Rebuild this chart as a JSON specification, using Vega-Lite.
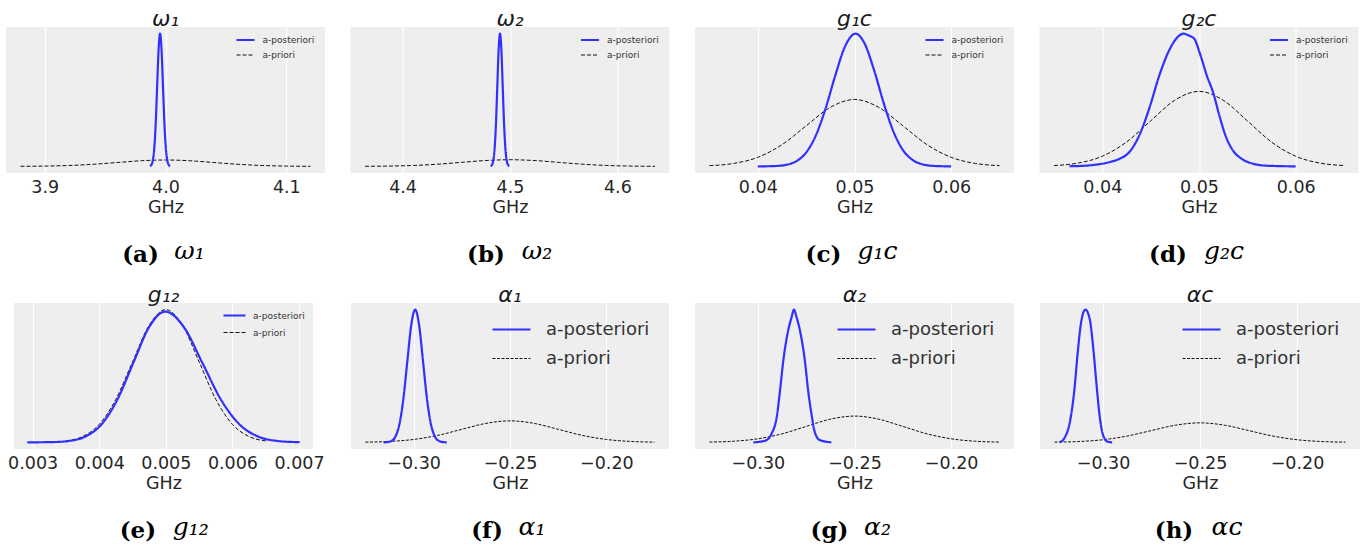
{
"$schema": "https://vega.github.io/schema/vega-lite/v6.json",
"padding": {"left": 6, "top": 8, "right": 0, "bottom": 0},
"config": {
 "font": "DejaVu Sans",
 "view": {"fill": "#eeeeee", "stroke": null},
 "axisX": {"grid": true, "gridColor": "#ffffff", "gridWidth": 1.2, "domain": false, "ticks": false, "labelFont": "DejaVu Sans", "labelFontSize": 17.5, "labelColor": "#262626", "labelPadding": 5, "labelFlush": false, "labelOverlap": false, "titleFont": "DejaVu Sans", "titleFontSize": 17.5, "titleFontWeight": "normal", "titleColor": "#262626", "titlePadding": 3},
 "title": {"font": "DejaVu Sans", "fontStyle": "italic", "fontSize": 22, "fontWeight": "normal", "color": "#1a1a1a", "offset": -4, "anchor": "middle"},
 "legend": {"orient": "none", "padding": 0, "labelFont": "DejaVu Sans", "labelColor": "#333333", "symbolType": "stroke", "labelLimit": 300}
},
"datasets": {
 "a": [
  {"s":"a-priori","x":3.88,"y":0.0005},{"s":"a-priori","x":3.90,"y":0.0021},{"s":"a-priori","x":3.92,"y":0.0065},{"s":"a-priori","x":3.94,"y":0.0156},{"s":"a-priori","x":3.96,"y":0.0291},{"s":"a-priori","x":3.98,"y":0.0424},{"s":"a-priori","x":4.00,"y":0.048},{"s":"a-priori","x":4.02,"y":0.0424},{"s":"a-priori","x":4.04,"y":0.0291},{"s":"a-priori","x":4.06,"y":0.0156},{"s":"a-priori","x":4.08,"y":0.0065},{"s":"a-priori","x":4.10,"y":0.0021},{"s":"a-priori","x":4.12,"y":0.0005},
  {"s":"a-posteriori","x":3.9871,"y":0.0022},{"s":"a-posteriori","x":3.9883,"y":0.0111},{"s":"a-posteriori","x":3.9895,"y":0.0439},{"s":"a-posteriori","x":3.9907,"y":0.1353},{"s":"a-posteriori","x":3.9919,"y":0.3247},{"s":"a-posteriori","x":3.9931,"y":0.6065},{"s":"a-posteriori","x":3.9943,"y":0.8825},{"s":"a-posteriori","x":3.9955,"y":1},{"s":"a-posteriori","x":3.9967,"y":0.8825},{"s":"a-posteriori","x":3.9979,"y":0.6065},{"s":"a-posteriori","x":3.9991,"y":0.3247},{"s":"a-posteriori","x":4.0003,"y":0.1353},{"s":"a-posteriori","x":4.0015,"y":0.0439},{"s":"a-posteriori","x":4.0027,"y":0.0111},{"s":"a-posteriori","x":4.0039,"y":0.0022}
 ],
 "b": [
  {"s":"a-priori","x":4.365,"y":0.0006},{"s":"a-priori","x":4.3875,"y":0.0022},{"s":"a-priori","x":4.41,"y":0.0068},{"s":"a-priori","x":4.4325,"y":0.0162},{"s":"a-priori","x":4.455,"y":0.0303},{"s":"a-priori","x":4.4775,"y":0.0441},{"s":"a-priori","x":4.5,"y":0.05},{"s":"a-priori","x":4.5225,"y":0.0441},{"s":"a-priori","x":4.545,"y":0.0303},{"s":"a-priori","x":4.5675,"y":0.0162},{"s":"a-priori","x":4.59,"y":0.0068},{"s":"a-priori","x":4.6125,"y":0.0022},{"s":"a-priori","x":4.635,"y":0.0006},
  {"s":"a-posteriori","x":4.48195,"y":0.0022},{"s":"a-posteriori","x":4.4832,"y":0.0111},{"s":"a-posteriori","x":4.48445,"y":0.0439},{"s":"a-posteriori","x":4.4857,"y":0.1353},{"s":"a-posteriori","x":4.48695,"y":0.3247},{"s":"a-posteriori","x":4.4882,"y":0.6065},{"s":"a-posteriori","x":4.48945,"y":0.8825},{"s":"a-posteriori","x":4.4907,"y":1},{"s":"a-posteriori","x":4.49195,"y":0.8825},{"s":"a-posteriori","x":4.4932,"y":0.6065},{"s":"a-posteriori","x":4.49445,"y":0.3247},{"s":"a-posteriori","x":4.4957,"y":0.1353},{"s":"a-posteriori","x":4.49695,"y":0.0439},{"s":"a-posteriori","x":4.4982,"y":0.0111},{"s":"a-posteriori","x":4.49945,"y":0.0022}
 ],
 "c": [
  {"s":"a-priori","x":0.035,"y":0.0056},{"s":"a-priori","x":0.0375,"y":0.0221},{"s":"a-priori","x":0.04,"y":0.0682},{"s":"a-priori","x":0.0425,"y":0.1636},{"s":"a-priori","x":0.045,"y":0.3057},{"s":"a-priori","x":0.0475,"y":0.4448},{"s":"a-priori","x":0.05,"y":0.504},{"s":"a-priori","x":0.0525,"y":0.4448},{"s":"a-priori","x":0.055,"y":0.3057},{"s":"a-priori","x":0.0575,"y":0.1636},{"s":"a-priori","x":0.06,"y":0.0682},{"s":"a-priori","x":0.0625,"y":0.0221},{"s":"a-priori","x":0.065,"y":0.0056},
  {"s":"a-posteriori","x":0.040,"y":0.0001},{"s":"a-posteriori","x":0.041,"y":0.0008},{"s":"a-posteriori","x":0.042,"y":0.0034},{"s":"a-posteriori","x":0.043,"y":0.0126},{"s":"a-posteriori","x":0.044,"y":0.0395},{"s":"a-posteriori","x":0.045,"y":0.1046},{"s":"a-posteriori","x":0.046,"y":0.2325},{"s":"a-posteriori","x":0.047,"y":0.434},{"s":"a-posteriori","x":0.048,"y":0.682},{"s":"a-posteriori","x":0.049,"y":0.9},{"s":"a-posteriori","x":0.0501,"y":1.0},{"s":"a-posteriori","x":0.051,"y":0.932},{"s":"a-posteriori","x":0.052,"y":0.731},{"s":"a-posteriori","x":0.053,"y":0.482},{"s":"a-posteriori","x":0.054,"y":0.267},{"s":"a-posteriori","x":0.055,"y":0.124},{"s":"a-posteriori","x":0.056,"y":0.0488},{"s":"a-posteriori","x":0.057,"y":0.016},{"s":"a-posteriori","x":0.058,"y":0.0044},{"s":"a-posteriori","x":0.059,"y":0.001},{"s":"a-posteriori","x":0.060,"y":0.0002}
 ],
 "d": [
  {"s":"a-priori","x":0.035,"y":0.0063},{"s":"a-priori","x":0.0375,"y":0.0248},{"s":"a-priori","x":0.04,"y":0.0764},{"s":"a-priori","x":0.0425,"y":0.1835},{"s":"a-priori","x":0.045,"y":0.3427},{"s":"a-priori","x":0.0475,"y":0.4986},{"s":"a-priori","x":0.05,"y":0.565},{"s":"a-priori","x":0.0525,"y":0.4986},{"s":"a-priori","x":0.055,"y":0.3427},{"s":"a-priori","x":0.0575,"y":0.1835},{"s":"a-priori","x":0.06,"y":0.0764},{"s":"a-priori","x":0.0625,"y":0.0248},{"s":"a-priori","x":0.065,"y":0.0063},
  {"s":"a-posteriori","x":0.0366,"y":0.001},{"s":"a-posteriori","x":0.038,"y":0.004},{"s":"a-posteriori","x":0.039,"y":0.01},{"s":"a-posteriori","x":0.0408,"y":0.033},{"s":"a-posteriori","x":0.0418,"y":0.058},{"s":"a-posteriori","x":0.0428,"y":0.108},{"s":"a-posteriori","x":0.0439,"y":0.246},{"s":"a-posteriori","x":0.0449,"y":0.447},{"s":"a-posteriori","x":0.0459,"y":0.686},{"s":"a-posteriori","x":0.047,"y":0.887},{"s":"a-posteriori","x":0.0478,"y":0.975},{"s":"a-posteriori","x":0.0484,"y":1.0},{"s":"a-posteriori","x":0.0489,"y":0.987},{"s":"a-posteriori","x":0.0495,"y":0.962},{"s":"a-posteriori","x":0.0501,"y":0.849},{"s":"a-posteriori","x":0.0508,"y":0.686},{"s":"a-posteriori","x":0.0515,"y":0.548},{"s":"a-posteriori","x":0.0521,"y":0.384},{"s":"a-posteriori","x":0.0528,"y":0.221},{"s":"a-posteriori","x":0.0535,"y":0.121},{"s":"a-posteriori","x":0.0544,"y":0.058},{"s":"a-posteriori","x":0.0556,"y":0.02},{"s":"a-posteriori","x":0.057,"y":0.005},{"s":"a-posteriori","x":0.06,"y":0.0}
 ],
 "e": [
  {"s":"a-priori","x":0.0035,"y":0.0111},{"s":"a-priori","x":0.00375,"y":0.0439},{"s":"a-priori","x":0.004,"y":0.1353},{"s":"a-priori","x":0.00425,"y":0.3247},{"s":"a-priori","x":0.0045,"y":0.6065},{"s":"a-priori","x":0.00475,"y":0.8825},{"s":"a-priori","x":0.005,"y":1},{"s":"a-priori","x":0.00525,"y":0.8825},{"s":"a-priori","x":0.0055,"y":0.6065},{"s":"a-priori","x":0.00575,"y":0.3247},{"s":"a-priori","x":0.006,"y":0.1353},{"s":"a-priori","x":0.00625,"y":0.0439},{"s":"a-priori","x":0.0065,"y":0.0111},
  {"s":"a-posteriori","x":0.00292,"y":0.0001},{"s":"a-posteriori","x":0.00331,"y":0.0022},{"s":"a-posteriori","x":0.00355,"y":0.0109},{"s":"a-posteriori","x":0.00379,"y":0.0432},{"s":"a-posteriori","x":0.00403,"y":0.1333},{"s":"a-posteriori","x":0.00427,"y":0.3198},{"s":"a-posteriori","x":0.00451,"y":0.5974},{"s":"a-posteriori","x":0.00475,"y":0.8693},{"s":"a-posteriori","x":0.00499,"y":0.985},{"s":"a-posteriori","x":0.00527,"y":0.8693},{"s":"a-posteriori","x":0.00555,"y":0.5974},{"s":"a-posteriori","x":0.00583,"y":0.3198},{"s":"a-posteriori","x":0.00611,"y":0.1333},{"s":"a-posteriori","x":0.00639,"y":0.0432},{"s":"a-posteriori","x":0.00667,"y":0.0109},{"s":"a-posteriori","x":0.00695,"y":0.0022},{"s":"a-posteriori","x":0.00701,"y":0.0015}
 ],
 "f": [
  {"s":"a-priori","x":-0.325,"y":0.0018},{"s":"a-priori","x":-0.3125,"y":0.0071},{"s":"a-priori","x":-0.3,"y":0.0219},{"s":"a-priori","x":-0.2875,"y":0.0526},{"s":"a-priori","x":-0.275,"y":0.0983},{"s":"a-priori","x":-0.2625,"y":0.143},{"s":"a-priori","x":-0.25,"y":0.162},{"s":"a-priori","x":-0.2375,"y":0.143},{"s":"a-priori","x":-0.225,"y":0.0983},{"s":"a-priori","x":-0.2125,"y":0.0526},{"s":"a-priori","x":-0.2,"y":0.0219},{"s":"a-priori","x":-0.1875,"y":0.0071},{"s":"a-priori","x":-0.175,"y":0.0018},
  {"s":"a-posteriori","x":-0.3156,"y":0.0003},{"s":"a-posteriori","x":-0.31355,"y":0.0022},{"s":"a-posteriori","x":-0.3115,"y":0.0111},{"s":"a-posteriori","x":-0.30945,"y":0.0439},{"s":"a-posteriori","x":-0.3074,"y":0.1353},{"s":"a-posteriori","x":-0.30535,"y":0.3247},{"s":"a-posteriori","x":-0.3033,"y":0.6065},{"s":"a-posteriori","x":-0.30125,"y":0.8825},{"s":"a-posteriori","x":-0.2992,"y":1},{"s":"a-posteriori","x":-0.29715,"y":0.8825},{"s":"a-posteriori","x":-0.2951,"y":0.6065},{"s":"a-posteriori","x":-0.29305,"y":0.3247},{"s":"a-posteriori","x":-0.291,"y":0.1353},{"s":"a-posteriori","x":-0.28895,"y":0.0439},{"s":"a-posteriori","x":-0.2869,"y":0.0111},{"s":"a-posteriori","x":-0.28485,"y":0.0022},{"s":"a-posteriori","x":-0.2828,"y":0.0003}
 ],
 "g": [
  {"s":"a-priori","x":-0.325,"y":0.0022},{"s":"a-priori","x":-0.3125,"y":0.0087},{"s":"a-priori","x":-0.3,"y":0.0268},{"s":"a-priori","x":-0.2875,"y":0.0643},{"s":"a-priori","x":-0.275,"y":0.1201},{"s":"a-priori","x":-0.2625,"y":0.1747},{"s":"a-priori","x":-0.25,"y":0.198},{"s":"a-priori","x":-0.2375,"y":0.1747},{"s":"a-priori","x":-0.225,"y":0.1201},{"s":"a-priori","x":-0.2125,"y":0.0643},{"s":"a-priori","x":-0.2,"y":0.0268},{"s":"a-priori","x":-0.1875,"y":0.0087},{"s":"a-priori","x":-0.175,"y":0.0022},
  {"s":"a-posteriori","x":-0.3023,"y":0.0},{"s":"a-posteriori","x":-0.2962,"y":0.0125},{"s":"a-posteriori","x":-0.2928,"y":0.068},{"s":"a-posteriori","x":-0.2902,"y":0.193},{"s":"a-posteriori","x":-0.2885,"y":0.393},{"s":"a-posteriori","x":-0.2868,"y":0.619},{"s":"a-posteriori","x":-0.2848,"y":0.807},{"s":"a-posteriori","x":-0.2825,"y":0.945},{"s":"a-posteriori","x":-0.2813,"y":1.0},{"s":"a-posteriori","x":-0.28,"y":0.945},{"s":"a-posteriori","x":-0.2779,"y":0.82},{"s":"a-posteriori","x":-0.2757,"y":0.619},{"s":"a-posteriori","x":-0.274,"y":0.393},{"s":"a-posteriori","x":-0.2723,"y":0.218},{"s":"a-posteriori","x":-0.2706,"y":0.08},{"s":"a-posteriori","x":-0.268,"y":0.018},{"s":"a-posteriori","x":-0.262,"y":0.0}
 ],
 "h": [
  {"s":"a-priori","x":-0.325,"y":0.0016},{"s":"a-priori","x":-0.3125,"y":0.0065},{"s":"a-priori","x":-0.3,"y":0.0199},{"s":"a-priori","x":-0.2875,"y":0.0477},{"s":"a-priori","x":-0.275,"y":0.0892},{"s":"a-priori","x":-0.2625,"y":0.1297},{"s":"a-priori","x":-0.25,"y":0.147},{"s":"a-priori","x":-0.2375,"y":0.1297},{"s":"a-priori","x":-0.225,"y":0.0892},{"s":"a-priori","x":-0.2125,"y":0.0477},{"s":"a-priori","x":-0.2,"y":0.0199},{"s":"a-priori","x":-0.1875,"y":0.0065},{"s":"a-priori","x":-0.175,"y":0.0016},
  {"s":"a-posteriori","x":-0.3224,"y":0.0},{"s":"a-posteriori","x":-0.3195,"y":0.043},{"s":"a-posteriori","x":-0.3169,"y":0.168},{"s":"a-posteriori","x":-0.3148,"y":0.393},{"s":"a-posteriori","x":-0.3131,"y":0.669},{"s":"a-posteriori","x":-0.3114,"y":0.895},{"s":"a-posteriori","x":-0.3091,"y":1.0},{"s":"a-posteriori","x":-0.3069,"y":0.932},{"s":"a-posteriori","x":-0.3051,"y":0.719},{"s":"a-posteriori","x":-0.3034,"y":0.444},{"s":"a-posteriori","x":-0.3017,"y":0.193},{"s":"a-posteriori","x":-0.2997,"y":0.043},{"s":"a-posteriori","x":-0.2976,"y":0.005},{"s":"a-posteriori","x":-0.2953,"y":0.0}
 ]
},
"resolve": {"scale": {"color": "independent", "strokeDash": "independent", "strokeWidth": "independent"}},
"columns": 1,
"align": "none",
"spacing": 17,
"concat": [
 {"hconcat": [
  {"title": {"text": "ω₁", "orient": "bottom", "anchor": "middle", "frame": "bounds", "dx": 24, "dy": -28, "offset": 0, "font": "DejaVu Serif", "fontStyle": "italic", "fontWeight": "normal", "fontSize": 25, "color": "#000000"},
   "resolve": {"scale": {"color": "independent", "strokeDash": "independent", "strokeWidth": "independent"}},
   "vconcat": [{"title": {"text": "(a)", "orient": "bottom", "anchor": "middle", "frame": "bounds", "dx": -25, "offset": 28, "font": "DejaVu Serif", "fontStyle": "normal", "fontWeight": "bold", "fontSize": 23, "color": "#000000"},
    "resolve": {"scale": {"color": "independent", "strokeDash": "independent", "strokeWidth": "independent"}},
    "vconcat": [{"width": 319, "height": 146, "title": "ω₁", "data": {"name": "a"},
     "mark": {"type": "line", "interpolate": "monotone"},
     "encoding": {
      "x": {"field": "x", "type": "quantitative", "title": "GHz", "scale": {"domain": [3.868, 4.132], "nice": false, "zero": false}, "axis": {"values": [3.9, 4.0, 4.1], "format": ".1f"}},
      "y": {"field": "y", "type": "quantitative", "axis": null, "scale": {"domain": [-0.05, 1.05], "nice": false, "zero": false}},
      "color": {"field": "s", "type": "nominal", "scale": {"domain": ["a-posteriori", "a-priori"], "range": ["#3030ff", "#111111"]}, "legend": {"orient": "none", "legendX": 229, "legendY": 2.5, "title": null, "labelFontSize": 9, "symbolSize": 324, "rowPadding": -8, "labelOffset": 6.5}},
      "strokeDash": {"field": "s", "type": "nominal", "scale": {"domain": ["a-posteriori", "a-priori"], "range": [[1, 0], [4, 2]]}, "legend": {"orient": "none", "legendX": 229, "legendY": 2.5, "title": null, "labelFontSize": 9, "symbolSize": 324, "rowPadding": -8, "labelOffset": 6.5}},
      "strokeWidth": {"field": "s", "type": "nominal", "scale": {"domain": ["a-posteriori", "a-priori"], "range": [2.2, 1]}, "legend": {"orient": "none", "legendX": 229, "legendY": 2.5, "title": null, "labelFontSize": 9, "symbolSize": 324, "rowPadding": -8, "labelOffset": 6.5}}
     }}]}]},
  {"title": {"text": "ω₂", "orient": "bottom", "anchor": "middle", "frame": "bounds", "dx": 27, "dy": -28, "offset": 0, "font": "DejaVu Serif", "fontStyle": "italic", "fontWeight": "normal", "fontSize": 25, "color": "#000000"},
   "resolve": {"scale": {"color": "independent", "strokeDash": "independent", "strokeWidth": "independent"}},
   "vconcat": [{"title": {"text": "(b)", "orient": "bottom", "anchor": "middle", "frame": "bounds", "dx": -24, "offset": 28, "font": "DejaVu Serif", "fontStyle": "normal", "fontWeight": "bold", "fontSize": 23, "color": "#000000"},
    "resolve": {"scale": {"color": "independent", "strokeDash": "independent", "strokeWidth": "independent"}},
    "vconcat": [{"width": 319, "height": 146, "title": "ω₂", "data": {"name": "b"},
     "mark": {"type": "line", "interpolate": "monotone"},
     "encoding": {
      "x": {"field": "x", "type": "quantitative", "title": "GHz", "scale": {"domain": [4.3515, 4.6485], "nice": false, "zero": false}, "axis": {"values": [4.4, 4.5, 4.6], "format": ".1f"}},
      "y": {"field": "y", "type": "quantitative", "axis": null, "scale": {"domain": [-0.05, 1.05], "nice": false, "zero": false}},
      "color": {"field": "s", "type": "nominal", "scale": {"domain": ["a-posteriori", "a-priori"], "range": ["#3030ff", "#111111"]}, "legend": {"orient": "none", "legendX": 229, "legendY": 2.5, "title": null, "labelFontSize": 9, "symbolSize": 324, "rowPadding": -8, "labelOffset": 6.5}},
      "strokeDash": {"field": "s", "type": "nominal", "scale": {"domain": ["a-posteriori", "a-priori"], "range": [[1, 0], [4, 2]]}, "legend": {"orient": "none", "legendX": 229, "legendY": 2.5, "title": null, "labelFontSize": 9, "symbolSize": 324, "rowPadding": -8, "labelOffset": 6.5}},
      "strokeWidth": {"field": "s", "type": "nominal", "scale": {"domain": ["a-posteriori", "a-priori"], "range": [2.2, 1]}, "legend": {"orient": "none", "legendX": 229, "legendY": 2.5, "title": null, "labelFontSize": 9, "symbolSize": 324, "rowPadding": -8, "labelOffset": 6.5}}
     }}]}]},
  {"title": {"text": "g₁ᴄ", "orient": "bottom", "anchor": "middle", "frame": "bounds", "dx": 23, "dy": -28, "offset": 0, "font": "DejaVu Serif", "fontStyle": "italic", "fontWeight": "normal", "fontSize": 25, "color": "#000000"},
   "resolve": {"scale": {"color": "independent", "strokeDash": "independent", "strokeWidth": "independent"}},
   "vconcat": [{"title": {"text": "(c)", "orient": "bottom", "anchor": "middle", "frame": "bounds", "dx": -31, "offset": 28, "font": "DejaVu Serif", "fontStyle": "normal", "fontWeight": "bold", "fontSize": 23, "color": "#000000"},
    "resolve": {"scale": {"color": "independent", "strokeDash": "independent", "strokeWidth": "independent"}},
    "vconcat": [{"width": 319, "height": 146, "title": "g₁ᴄ", "data": {"name": "c"},
     "mark": {"type": "line", "interpolate": "monotone"},
     "encoding": {
      "x": {"field": "x", "type": "quantitative", "title": "GHz", "scale": {"domain": [0.0335, 0.0665], "nice": false, "zero": false}, "axis": {"values": [0.04, 0.05, 0.06], "format": ".2f"}},
      "y": {"field": "y", "type": "quantitative", "axis": null, "scale": {"domain": [-0.05, 1.05], "nice": false, "zero": false}},
      "color": {"field": "s", "type": "nominal", "scale": {"domain": ["a-posteriori", "a-priori"], "range": ["#3030ff", "#111111"]}, "legend": {"orient": "none", "legendX": 229, "legendY": 2.5, "title": null, "labelFontSize": 9, "symbolSize": 324, "rowPadding": -8, "labelOffset": 6.5}},
      "strokeDash": {"field": "s", "type": "nominal", "scale": {"domain": ["a-posteriori", "a-priori"], "range": [[1, 0], [4, 2]]}, "legend": {"orient": "none", "legendX": 229, "legendY": 2.5, "title": null, "labelFontSize": 9, "symbolSize": 324, "rowPadding": -8, "labelOffset": 6.5}},
      "strokeWidth": {"field": "s", "type": "nominal", "scale": {"domain": ["a-posteriori", "a-priori"], "range": [2.2, 1]}, "legend": {"orient": "none", "legendX": 229, "legendY": 2.5, "title": null, "labelFontSize": 9, "symbolSize": 324, "rowPadding": -8, "labelOffset": 6.5}}
     }}]}]},
  {"title": {"text": "g₂ᴄ", "orient": "bottom", "anchor": "middle", "frame": "bounds", "dx": 25, "dy": -28, "offset": 0, "font": "DejaVu Serif", "fontStyle": "italic", "fontWeight": "normal", "fontSize": 25, "color": "#000000"},
   "resolve": {"scale": {"color": "independent", "strokeDash": "independent", "strokeWidth": "independent"}},
   "vconcat": [{"title": {"text": "(d)", "orient": "bottom", "anchor": "middle", "frame": "bounds", "dx": -31, "offset": 28, "font": "DejaVu Serif", "fontStyle": "normal", "fontWeight": "bold", "fontSize": 23, "color": "#000000"},
    "resolve": {"scale": {"color": "independent", "strokeDash": "independent", "strokeWidth": "independent"}},
    "vconcat": [{"width": 319, "height": 146, "title": "g₂ᴄ", "data": {"name": "d"},
     "mark": {"type": "line", "interpolate": "monotone"},
     "encoding": {
      "x": {"field": "x", "type": "quantitative", "title": "GHz", "scale": {"domain": [0.0335, 0.0665], "nice": false, "zero": false}, "axis": {"values": [0.04, 0.05, 0.06], "format": ".2f"}},
      "y": {"field": "y", "type": "quantitative", "axis": null, "scale": {"domain": [-0.05, 1.05], "nice": false, "zero": false}},
      "color": {"field": "s", "type": "nominal", "scale": {"domain": ["a-posteriori", "a-priori"], "range": ["#3030ff", "#111111"]}, "legend": {"orient": "none", "legendX": 229, "legendY": 2.5, "title": null, "labelFontSize": 9, "symbolSize": 324, "rowPadding": -8, "labelOffset": 6.5}},
      "strokeDash": {"field": "s", "type": "nominal", "scale": {"domain": ["a-posteriori", "a-priori"], "range": [[1, 0], [4, 2]]}, "legend": {"orient": "none", "legendX": 229, "legendY": 2.5, "title": null, "labelFontSize": 9, "symbolSize": 324, "rowPadding": -8, "labelOffset": 6.5}},
      "strokeWidth": {"field": "s", "type": "nominal", "scale": {"domain": ["a-posteriori", "a-priori"], "range": [2.2, 1]}, "legend": {"orient": "none", "legendX": 229, "legendY": 2.5, "title": null, "labelFontSize": 9, "symbolSize": 324, "rowPadding": -8, "labelOffset": 6.5}}
     }}]}]}
 ], "spacing": 25.5, "resolve": {"scale": {"color": "independent", "strokeDash": "independent", "strokeWidth": "independent"}}},
 {"hconcat": [
  {"width": 1, "height": 1, "view": {"fill": null, "stroke": null}, "data": {"values": []}, "mark": "point", "encoding": {}},
  {"hconcat": [
  {"title": {"text": "g₁₂", "orient": "bottom", "anchor": "middle", "frame": "bounds", "dx": 25, "dy": -28, "offset": 0, "font": "DejaVu Serif", "fontStyle": "italic", "fontWeight": "normal", "fontSize": 25, "color": "#000000"},
   "resolve": {"scale": {"color": "independent", "strokeDash": "independent", "strokeWidth": "independent"}},
   "vconcat": [{"title": {"text": "(e)", "orient": "bottom", "anchor": "middle", "frame": "bounds", "dx": -28, "offset": 28, "font": "DejaVu Serif", "fontStyle": "normal", "fontWeight": "bold", "fontSize": 23, "color": "#000000"},
    "resolve": {"scale": {"color": "independent", "strokeDash": "independent", "strokeWidth": "independent"}},
    "vconcat": [{"width": 299, "height": 146, "title": "g₁₂", "data": {"name": "e"},
     "mark": {"type": "line", "interpolate": "monotone"},
     "encoding": {
      "x": {"field": "x", "type": "quantitative", "title": "GHz", "scale": {"domain": [0.00272, 0.00721], "nice": false, "zero": false}, "axis": {"values": [0.003, 0.004, 0.005, 0.006, 0.007], "format": ".3f"}},
      "y": {"field": "y", "type": "quantitative", "axis": null, "scale": {"domain": [-0.05, 1.05], "nice": false, "zero": false}},
      "color": {"field": "s", "type": "nominal", "scale": {"domain": ["a-posteriori", "a-priori"], "range": ["#3030ff", "#111111"]}, "legend": {"orient": "none", "legendX": 208, "legendY": 0, "title": null, "labelFontSize": 9, "symbolSize": 484, "rowPadding": -10, "labelOffset": 6}},
      "strokeDash": {"field": "s", "type": "nominal", "scale": {"domain": ["a-posteriori", "a-priori"], "range": [[1, 0], [4, 2]]}, "legend": {"orient": "none", "legendX": 208, "legendY": 0, "title": null, "labelFontSize": 9, "symbolSize": 484, "rowPadding": -10, "labelOffset": 6}},
      "strokeWidth": {"field": "s", "type": "nominal", "scale": {"domain": ["a-posteriori", "a-priori"], "range": [2.2, 1]}, "legend": {"orient": "none", "legendX": 208, "legendY": 0, "title": null, "labelFontSize": 9, "symbolSize": 484, "rowPadding": -10, "labelOffset": 6}}
     }}]}]},
  {"title": {"text": "α₁", "orient": "bottom", "anchor": "middle", "frame": "bounds", "dx": 22, "dy": -28, "offset": 0, "font": "DejaVu Serif", "fontStyle": "italic", "fontWeight": "normal", "fontSize": 25, "color": "#000000"},
   "resolve": {"scale": {"color": "independent", "strokeDash": "independent", "strokeWidth": "independent"}},
   "vconcat": [{"title": {"text": "(f)", "orient": "bottom", "anchor": "middle", "frame": "bounds", "dx": -23, "offset": 28, "font": "DejaVu Serif", "fontStyle": "normal", "fontWeight": "bold", "fontSize": 23, "color": "#000000"},
    "resolve": {"scale": {"color": "independent", "strokeDash": "independent", "strokeWidth": "independent"}},
    "vconcat": [{"width": 318, "height": 146, "title": "α₁", "data": {"name": "f"},
     "mark": {"type": "line", "interpolate": "monotone"},
     "encoding": {
      "x": {"field": "x", "type": "quantitative", "title": "GHz", "scale": {"domain": [-0.3325, -0.1675], "nice": false, "zero": false}, "axis": {"values": [-0.3, -0.25, -0.2], "format": ".2f"}},
      "y": {"field": "y", "type": "quantitative", "axis": null, "scale": {"domain": [-0.05, 1.05], "nice": false, "zero": false}},
      "color": {"field": "s", "type": "nominal", "scale": {"domain": ["a-posteriori", "a-priori"], "range": ["#3030ff", "#111111"]}, "legend": {"orient": "none", "legendX": 140, "legendY": 6, "title": null, "labelFontSize": 18, "symbolSize": 1444, "rowPadding": -13, "labelOffset": 14}},
      "strokeDash": {"field": "s", "type": "nominal", "scale": {"domain": ["a-posteriori", "a-priori"], "range": [[1, 0], [3, 1.5]]}, "legend": {"orient": "none", "legendX": 140, "legendY": 6, "title": null, "labelFontSize": 18, "symbolSize": 1444, "rowPadding": -13, "labelOffset": 14}},
      "strokeWidth": {"field": "s", "type": "nominal", "scale": {"domain": ["a-posteriori", "a-priori"], "range": [2.2, 1]}, "legend": {"orient": "none", "legendX": 140, "legendY": 6, "title": null, "labelFontSize": 18, "symbolSize": 1444, "rowPadding": -13, "labelOffset": 14}}
     }}]}]},
  {"title": {"text": "α₂", "orient": "bottom", "anchor": "middle", "frame": "bounds", "dx": 23, "dy": -28, "offset": 0, "font": "DejaVu Serif", "fontStyle": "italic", "fontWeight": "normal", "fontSize": 25, "color": "#000000"},
   "resolve": {"scale": {"color": "independent", "strokeDash": "independent", "strokeWidth": "independent"}},
   "vconcat": [{"title": {"text": "(g)", "orient": "bottom", "anchor": "middle", "frame": "bounds", "dx": -25, "offset": 28, "font": "DejaVu Serif", "fontStyle": "normal", "fontWeight": "bold", "fontSize": 23, "color": "#000000"},
    "resolve": {"scale": {"color": "independent", "strokeDash": "independent", "strokeWidth": "independent"}},
    "vconcat": [{"width": 319, "height": 146, "title": "α₂", "data": {"name": "g"},
     "mark": {"type": "line", "interpolate": "monotone"},
     "encoding": {
      "x": {"field": "x", "type": "quantitative", "title": "GHz", "scale": {"domain": [-0.3325, -0.1675], "nice": false, "zero": false}, "axis": {"values": [-0.3, -0.25, -0.2], "format": ".2f"}},
      "y": {"field": "y", "type": "quantitative", "axis": null, "scale": {"domain": [-0.05, 1.05], "nice": false, "zero": false}},
      "color": {"field": "s", "type": "nominal", "scale": {"domain": ["a-posteriori", "a-priori"], "range": ["#3030ff", "#111111"]}, "legend": {"orient": "none", "legendX": 141, "legendY": 6, "title": null, "labelFontSize": 18, "symbolSize": 1444, "rowPadding": -13, "labelOffset": 14}},
      "strokeDash": {"field": "s", "type": "nominal", "scale": {"domain": ["a-posteriori", "a-priori"], "range": [[1, 0], [3, 1.5]]}, "legend": {"orient": "none", "legendX": 141, "legendY": 6, "title": null, "labelFontSize": 18, "symbolSize": 1444, "rowPadding": -13, "labelOffset": 14}},
      "strokeWidth": {"field": "s", "type": "nominal", "scale": {"domain": ["a-posteriori", "a-priori"], "range": [2.2, 1]}, "legend": {"orient": "none", "legendX": 141, "legendY": 6, "title": null, "labelFontSize": 18, "symbolSize": 1444, "rowPadding": -13, "labelOffset": 14}}
     }}]}]},
  {"title": {"text": "αᴄ", "orient": "bottom", "anchor": "middle", "frame": "bounds", "dx": 27, "dy": -28, "offset": 0, "font": "DejaVu Serif", "fontStyle": "italic", "fontWeight": "normal", "fontSize": 25, "color": "#000000"},
   "resolve": {"scale": {"color": "independent", "strokeDash": "independent", "strokeWidth": "independent"}},
   "vconcat": [{"title": {"text": "(h)", "orient": "bottom", "anchor": "middle", "frame": "bounds", "dx": -26, "offset": 28, "font": "DejaVu Serif", "fontStyle": "normal", "fontWeight": "bold", "fontSize": 23, "color": "#000000"},
    "resolve": {"scale": {"color": "independent", "strokeDash": "independent", "strokeWidth": "independent"}},
    "vconcat": [{"width": 320, "height": 146, "title": "αᴄ", "data": {"name": "h"},
     "mark": {"type": "line", "interpolate": "monotone"},
     "encoding": {
      "x": {"field": "x", "type": "quantitative", "title": "GHz", "scale": {"domain": [-0.3325, -0.1675], "nice": false, "zero": false}, "axis": {"values": [-0.3, -0.25, -0.2], "format": ".2f"}},
      "y": {"field": "y", "type": "quantitative", "axis": null, "scale": {"domain": [-0.05, 1.05], "nice": false, "zero": false}},
      "color": {"field": "s", "type": "nominal", "scale": {"domain": ["a-posteriori", "a-priori"], "range": ["#3030ff", "#111111"]}, "legend": {"orient": "none", "legendX": 141, "legendY": 6, "title": null, "labelFontSize": 18, "symbolSize": 1444, "rowPadding": -13, "labelOffset": 14}},
      "strokeDash": {"field": "s", "type": "nominal", "scale": {"domain": ["a-posteriori", "a-priori"], "range": [[1, 0], [3, 1.5]]}, "legend": {"orient": "none", "legendX": 141, "legendY": 6, "title": null, "labelFontSize": 18, "symbolSize": 1444, "rowPadding": -13, "labelOffset": 14}},
      "strokeWidth": {"field": "s", "type": "nominal", "scale": {"domain": ["a-posteriori", "a-priori"], "range": [2.2, 1]}, "legend": {"orient": "none", "legendX": 141, "legendY": 6, "title": null, "labelFontSize": 18, "symbolSize": 1444, "rowPadding": -13, "labelOffset": 14}}
     }}]}]}
  ], "spacing": 26, "resolve": {"scale": {"color": "independent", "strokeDash": "independent", "strokeWidth": "independent"}}}
 ], "spacing": 0, "resolve": {"scale": {"color": "independent", "strokeDash": "independent", "strokeWidth": "independent"}}}
]
}
